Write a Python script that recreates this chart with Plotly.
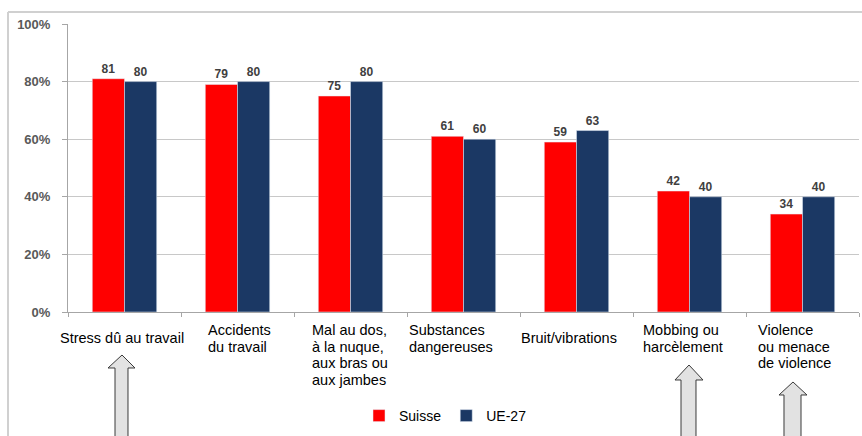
import plotly.graph_objects as go

categories = ["Stress dû au travail", "Accidents du travail",
              "Mal au dos, à la nuque, aux bras ou aux jambes",
              "Substances dangereuses", "Bruit/vibrations",
              "Mobbing ou harcèlement", "Violence ou menace de violence"]
label_lines = [["Stress dû au travail"], ["Accidents", "du travail"],
               ["Mal au dos,", "à la nuque,", "aux bras ou", "aux jambes"],
               ["Substances", "dangereuses"], ["Bruit/vibrations"],
               ["Mobbing ou", "harcèlement"], ["Violence", "ou menace", "de violence"]]
suisse = [81, 79, 75, 61, 59, 42, 34]
ue27 = [80, 80, 80, 60, 63, 40, 40]
y_ticks = [0, 20, 40, 60, 80, 100]

W, H = 862, 436
L, R, T, B = 68, 3, 24, 124
pw, ph = W - L - R, H - T - B

def px(x):
    return (x - L) / pw

def py(y):
    return (H - B - y) / ph

FONT = "Arial, Liberation Sans, sans-serif"

fig = go.Figure()
fig.add_trace(go.Bar(name="Suisse", x=categories, y=suisse, marker_color="#FF0000",
                     text=[str(v) for v in suisse], textposition="outside",
                     texttemplate="<b>%{text}</b>",
                     textfont=dict(size=12, color="#404040", family=FONT),
                     cliponaxis=False))
fig.add_trace(go.Bar(name="UE-27", x=categories, y=ue27, marker_color="#1B3864",
                     text=[str(v) for v in ue27], textposition="outside",
                     texttemplate="<b>%{text}</b>",
                     textfont=dict(size=12, color="#404040", family=FONT),
                     cliponaxis=False))

fig.update_layout(
    width=W, height=H, margin=dict(l=L, r=R, t=T, b=B, autoexpand=False),
    barmode="group", bargap=0.43, bargroupgap=0,
    plot_bgcolor="white", paper_bgcolor="white",
    font=dict(family=FONT, size=12, color="#000000"),
    showlegend=True,
    legend=dict(orientation="h", x=px(359), y=py(400), xanchor="left", yanchor="top",
                font=dict(size=14, color="#000000"), bgcolor="rgba(0,0,0,0)",
                itemwidth=30, traceorder="normal"),
)
fig.update_xaxes(range=[-0.5, len(categories) - 0.5], autorange=False,
                 showticklabels=False, showline=True, linecolor="#A6A6A6", linewidth=1,
                 ticks="outside", tickson="boundaries", ticklen=4, tickcolor="#A6A6A6",
                 showgrid=False, zeroline=False)
fig.update_yaxes(range=[0, 100], tickvals=y_ticks, ticktext=[f"<b>{v}%</b>" for v in y_ticks],
                 showline=True, linecolor="#A6A6A6", linewidth=1,
                 ticks="outside", ticklen=5, tickcolor="#A6A6A6", ticklabelstandoff=9,
                 showgrid=True, gridcolor="#C8C8C8", gridwidth=1, zeroline=False,
                 tickfont=dict(size=13, color="#595959", family=FONT))

# category labels (left aligned text lines below the axis)
shifts = [-66, -31, -40, -56, -57, -48, -46]
first_center = [338, 330, 330, 330, 338, 330, 330]
line_step = 16.7
axis_bottom = H - B
for cat, lines, dx, c0 in zip(categories, label_lines, shifts, first_center):
    for i, line in enumerate(lines):
        yc = c0 + i * line_step
        fig.add_annotation(x=cat, xref="x", y=0, yref="paper", yshift=-(yc - axis_bottom),
                           text=line, showarrow=False, xanchor="left", yanchor="middle",
                           align="left", xshift=dx, borderpad=0,
                           font=dict(size=14.5, color="#000000", family=FONT))

# outer frame lines
fig.add_shape(type="line", xref="paper", yref="paper", x0=px(8), x1=px(862),
              y0=py(12), y1=py(12), line=dict(color="#D0D0D0", width=2))
fig.add_shape(type="line", xref="paper", yref="paper", x0=px(8), x1=px(8),
              y0=py(12), y1=py(436), line=dict(color="#D0D0D0", width=2))

# block arrows
arrows = [(122, 355, 368, 108, 135, 115, 128), (689, 365, 380, 675, 703, 681, 696),
          (793, 382, 395, 779, 807, 784, 801)]
for tx, ty, hb, hl, hr, sl, sr in arrows:
    bottom = 437
    pts = [(tx, ty), (hr, hb), (sr, hb), (sr, bottom), (sl, bottom), (sl, hb), (hl, hb)]
    path = "M " + " L ".join(f"{px(a):.5f},{py(b):.5f}" for a, b in pts) + " Z"
    fig.add_shape(type="path", xref="paper", yref="paper", path=path,
                  fillcolor="#E2E2E2", line=dict(color="#3A3A3A", width=1))

fig.write_html("out.html", config={"displayModeBar": False},
               post_script="document.body.style.margin='0';document.body.style.overflow='hidden';")
